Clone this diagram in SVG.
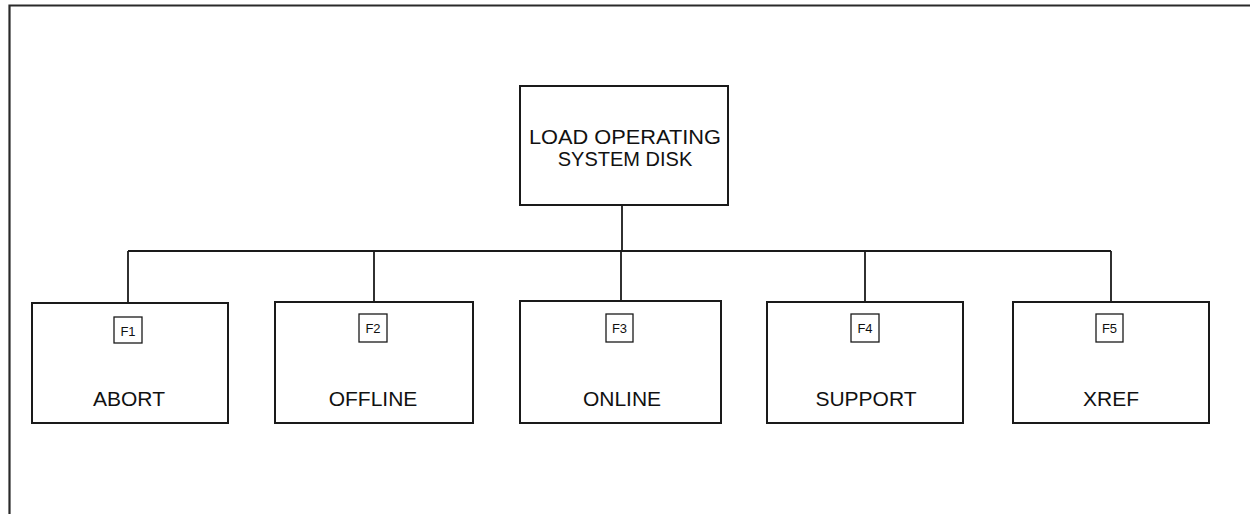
<svg xmlns="http://www.w3.org/2000/svg" width="1250" height="514" viewBox="0 0 1250 514">
<style>
.box{fill:#fff;stroke:#1a1a1a;stroke-width:2}
.key{fill:#fff;stroke:#1a1a1a;stroke-width:1.3}
.lbl{font-family:"Liberation Sans",Arial,sans-serif;font-size:21px;fill:#111;text-anchor:middle}
.k{font-family:"Liberation Sans",Arial,sans-serif;font-size:13px;fill:#111;text-anchor:middle}
.ln{stroke:#1a1a1a;stroke-width:1.8;fill:none}
</style>
<rect width="1250" height="514" fill="#fff"/>
<g id="frame">
<path d="M9.5,514 V5.5 H1250" fill="none" stroke="#2a2a2a" stroke-width="2.2"/>
</g>
<g id="connectors">
<line class="ln" x1="622" y1="205" x2="622" y2="251"/>
<line class="ln" x1="128" y1="251" x2="1111" y2="251"/>
<line class="ln" x1="128" y1="251" x2="128" y2="303"/>
<line class="ln" x1="374" y1="251" x2="374" y2="302"/>
<line class="ln" x1="621" y1="251" x2="621" y2="301"/>
<line class="ln" x1="865" y1="251" x2="865" y2="302"/>
<line class="ln" x1="1111" y1="251" x2="1111" y2="302"/>
</g>
<g id="root">
<rect class="box" x="520" y="86" width="208" height="119"/>
<text class="lbl" x="625" y="144" style="font-size:20px" textLength="192" lengthAdjust="spacingAndGlyphs">LOAD OPERATING</text>
<text class="lbl" x="625" y="166" style="font-size:20px">SYSTEM DISK</text>
</g>
<g id="abort">
<rect class="box" x="32" y="303" width="196" height="120"/>
<rect class="key" x="114" y="317" width="28" height="26"/>
<text class="k" x="128" y="336">F1</text>
<text class="lbl" x="129" y="406">ABORT</text>
</g>
<g id="offline">
<rect class="box" x="275" y="302" width="198" height="121"/>
<rect class="key" x="359" y="314" width="28" height="28"/>
<text class="k" x="373" y="333">F2</text>
<text class="lbl" x="373" y="406">OFFLINE</text>
</g>
<g id="online">
<rect class="box" x="520" y="301" width="201" height="122"/>
<rect class="key" x="606" y="314" width="27" height="28"/>
<text class="k" x="619.5" y="333">F3</text>
<text class="lbl" x="622" y="406">ONLINE</text>
</g>
<g id="support">
<rect class="box" x="767" y="302" width="196" height="121"/>
<rect class="key" x="851" y="314" width="28" height="28"/>
<text class="k" x="865" y="333">F4</text>
<text class="lbl" x="866" y="406">SUPPORT</text>
</g>
<g id="xref">
<rect class="box" x="1013" y="302" width="196" height="121"/>
<rect class="key" x="1096" y="314" width="27" height="28"/>
<text class="k" x="1109.5" y="333">F5</text>
<text class="lbl" x="1111" y="406">XREF</text>
</g>
</svg>
